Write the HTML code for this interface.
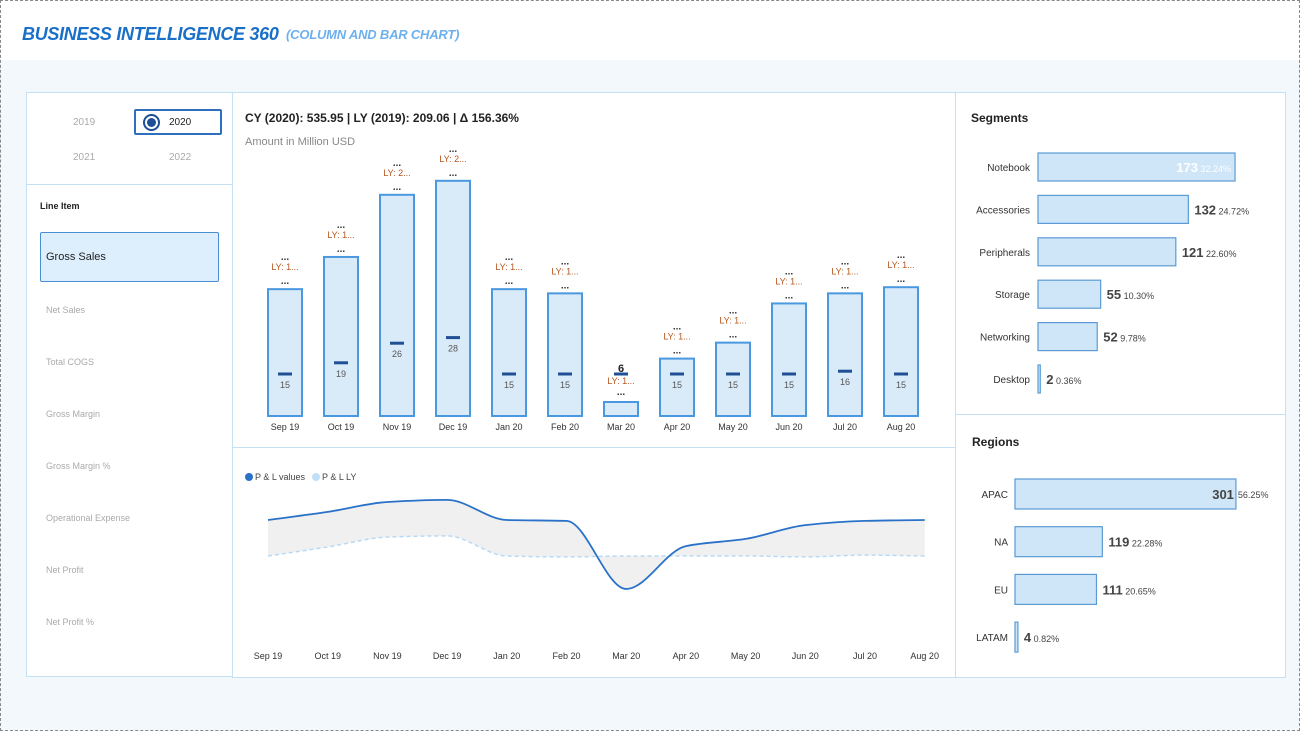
<!DOCTYPE html>
<html><head><meta charset="utf-8">
<style>
*{box-sizing:border-box;margin:0;padding:0}
body{width:1300px;height:731px;overflow:hidden;background:#f3f8fc;font-family:"Liberation Sans",sans-serif;position:relative}
#frame{position:absolute;left:0;top:0;width:1300px;height:731px;border:1px dashed #888;pointer-events:none}
#hdr{position:absolute;left:0;top:0;width:1300px;height:60px;background:#fff}
.title{position:absolute;left:22px;top:24px;font-size:18px;letter-spacing:-0.3px;font-weight:bold;font-style:italic;color:#1a6fc8}
.sub{position:absolute;left:286px;top:27px;font-size:13px;letter-spacing:-0.2px;font-weight:bold;font-style:italic;color:#6db0ef}
.panel{position:absolute;background:#fff;border:1px solid #c5dff3}
.t{position:absolute;white-space:nowrap}
svg text{font-family:"Liberation Sans",sans-serif}
</style></head><body>
<div id="hdr">
<div class="title">BUSINESS INTELLIGENCE 360</div>
<div class="sub">(COLUMN AND BAR CHART)</div>
</div>

<div class="panel" style="left:26px;top:92px;width:207px;height:93px">
<div class="t" style="left:46px;top:24px;font-size:10px;color:#aaa">2019</div>
<div class="t" style="left:107px;top:16px;width:88px;height:26px;border:2px solid #2f6fbf;border-radius:2px">
<div style="position:absolute;left:7px;top:3px;width:17px;height:17px;border-radius:50%;border:2px solid #1f4f94"><div style="position:absolute;left:2px;top:2px;width:9px;height:9px;border-radius:50%;background:#1f4f94"></div></div>
<div class="t" style="left:33px;top:6px;font-size:10px;color:#222">2020</div></div>
<div class="t" style="left:46px;top:59px;font-size:10px;color:#aaa">2021</div>
<div class="t" style="left:142px;top:59px;font-size:10px;color:#aaa">2022</div>
</div>

<div class="panel" style="left:26px;top:184px;width:207px;height:493px">
<div class="t" style="left:13px;top:16px;font-size:9px;font-weight:bold;color:#222">Line Item</div>
<div class="t" style="left:13px;top:47px;width:179px;height:50px;background:#ddeefc;border:1px solid #4a8fd6;border-radius:2px;font-size:11px;color:#222;padding:18px 0 0 5px">Gross Sales</div>
<div class="t" style="left:19px;top:120px;font-size:9px;color:#aaa">Net Sales</div>
<div class="t" style="left:19px;top:172px;font-size:9px;color:#aaa">Total COGS</div>
<div class="t" style="left:19px;top:224px;font-size:9px;color:#aaa">Gross Margin</div>
<div class="t" style="left:19px;top:276px;font-size:9px;color:#aaa">Gross Margin %</div>
<div class="t" style="left:19px;top:328px;font-size:9px;color:#aaa">Operational Expense</div>
<div class="t" style="left:19px;top:380px;font-size:9px;color:#aaa">Net Profit</div>
<div class="t" style="left:19px;top:432px;font-size:9px;color:#aaa">Net Profit %</div>
</div>

<div class="panel" style="left:232px;top:92px;width:724px;height:356px">
<div class="t" style="left:12px;top:18px;font-size:12px;font-weight:bold;color:#222">CY (2020): 535.95 | LY (2019): 209.06 | Δ 156.36%</div>
<div class="t" style="left:12px;top:43px;font-size:11px;color:#888">Amount in Million USD</div>
</div>
<div class="panel" style="left:232px;top:447px;width:724px;height:231px"></div>
<div class="panel" style="left:955px;top:92px;width:331px;height:323px">
<div class="t" style="left:15px;top:18px;font-size:12px;font-weight:bold;color:#222">Segments</div></div>
<div class="panel" style="left:955px;top:414px;width:331px;height:264px">
<div class="t" style="left:16px;top:20px;font-size:12px;font-weight:bold;color:#222">Regions</div></div>

<svg id="svg" width="1300" height="731" style="position:absolute;left:0;top:0"></svg>
<div id="frame"></div>

<script>
// Column chart data
const months=["Sep 19","Oct 19","Nov 19","Dec 19","Jan 20","Feb 20","Mar 20","Apr 20","May 20","Jun 20","Jul 20","Aug 20"];
const cyValues=[45.3,56.8,79,84,45.3,43.8,5,20.5,26.2,40.2,43.8,46];
const lyValues=[15,19,26,28,15,15,15,15,15,15,16,15];
// Line chart data
const plValues=[48,50.7,54,54.7,48,47.7,25,39.3,41.7,46.3,47.7,48];
const plLY=[36,39,42.3,42.7,36,35.7,36,36,36,35.7,36.3,36];
// Segments
const segNames=["Notebook","Accessories","Peripherals","Storage","Networking","Desktop"];
const segValues=[173,132,121,55,52,2];
const segPct=["32.24%","24.72%","22.60%","10.30%","9.78%","0.36%"];
// Regions
const regNames=["APAC","NA","EU","LATAM"];
const regValues=[301,119,111,4];
const regPct=["56.25%","22.28%","20.65%","0.82%"];

const S=document.getElementById('svg');const NS='http://www.w3.org/2000/svg';
function mk(tag,at,txt){const e=document.createElementNS(NS,tag);for(const k in at)e.setAttribute(k,at[k]);if(txt!==undefined)e.textContent=txt;S.appendChild(e);return e;}

// column axes
const colX=i=>285+i*56;
const colY=v=>416-v*2.8;
months.forEach((m,i)=>{
  const cx=colX(i),top=colY(cyValues[i]);
  let e=mk('rect',{x:cx-17,y:top,width:34,height:416-top,fill:'#d9ebf9',stroke:'#4a98e0','stroke-width':2});
  
  
  const ly=colY(lyValues[i]);
  e=mk('rect',{x:cx-7,y:ly-1.5,width:14,height:3,fill:'#1f4f94'});
  
  
  if(top<ly-4){
    e=mk('text',{x:cx,y:ly+14,'font-size':9,fill:'#555','text-anchor':'middle'},lyValues[i]);
    
    
    e=mk('text',{x:cx,y:top-5,'font-size':10,'font-weight':'bold',fill:'#333','text-anchor':'middle'},'...');
    
    
    e=mk('text',{x:cx,y:top-19,'font-size':9,fill:'#b5541b','text-anchor':'middle'},'LY: '+String(lyValues[i])[0]+'...');
    
    
    e=mk('text',{x:cx,y:top-29,'font-size':10,'font-weight':'bold',fill:'#333','text-anchor':'middle'},'...');
    
    
  } else {
    e=mk('text',{x:cx,y:ly-2,'font-size':11,'font-weight':'bold',fill:'#222','text-anchor':'middle'},Math.round(cyValues[i]+1));
    
    
    e=mk('text',{x:cx,y:ly+10,'font-size':9,fill:'#b5541b','text-anchor':'middle'},'LY: '+String(lyValues[i])[0]+'...');
    
    
    e=mk('text',{x:cx,y:top-7,'font-size':10,'font-weight':'bold',fill:'#333','text-anchor':'middle'},'...');
    
    
  }
  e=mk('text',{x:cx,y:430,'font-size':9,fill:'#333','text-anchor':'middle'},m);
  
  
});

// line chart (monotone cubic)
const lx=i=>268+i*59.7;
const ly2=v=>664-v*3;
function pts(vals){return vals.map((v,i)=>[lx(i),ly2(v)]);}
function mono(p){
  const n=p.length,d=[],m=[];
  for(let i=0;i<n-1;i++)d.push((p[i+1][1]-p[i][1])/(p[i+1][0]-p[i][0]));
  m[0]=d[0];m[n-1]=d[n-2];
  for(let i=1;i<n-1;i++){m[i]=(d[i-1]*d[i]<=0)?0:2/(1/d[i-1]+1/d[i]);}
  let s='';
  for(let i=0;i<n-1;i++){const h=(p[i+1][0]-p[i][0])/3;
    s+=' C'+(p[i][0]+h)+','+(p[i][1]+m[i]*h)+' '+(p[i+1][0]-h)+','+(p[i+1][1]-m[i+1]*h)+' '+p[i+1][0]+','+p[i+1][1];}
  return s;
}
function monoRev(p){
  const q=p.map(a=>[-a[0],a[1]]).reverse();
  return mono(q).replace(/(-?[\d.]+),/g,(x,a)=>(-parseFloat(a))+',');
}
function smooth(vals){const p=pts(vals);return 'M'+p[0][0]+','+p[0][1]+mono(p);}
function smoothRev(vals){const p=pts(vals);const n=p.length-1;return ' L'+p[n][0]+','+p[n][1]+monoRev(p)+'Z';}
let a=mk('path',{d:smooth(plValues)+smoothRev(plLY),fill:'#f0f0f0'});


a=mk('path',{d:smooth(plLY),fill:'none',stroke:'#b8d9f5','stroke-width':1.5,'stroke-dasharray':'4,3'});


a=mk('path',{d:smooth(plValues),fill:'none',stroke:'#2a72c8','stroke-width':1.8});


months.forEach((m,i)=>{const e=mk('text',{x:lx(i),y:659,'font-size':9,fill:'#333','text-anchor':'middle'},m);

});
a=mk('circle',{cx:249,cy:477,r:4,fill:'#2a72c8'});


a=mk('text',{x:255,y:480,'font-size':9,fill:'#444'},'P & L values');


a=mk('circle',{cx:316,cy:477,r:4,fill:'#c2dff7'});


a=mk('text',{x:322,y:480,'font-size':9,fill:'#444'},'P & L LY');



// segments
const segW=v=>v*1.139;
const segY=i=>167+i*42.4;
segNames.forEach((n,i)=>{
  const w=segW(segValues[i]),cy=segY(i);
  let e=mk('text',{x:1030,y:cy+4,'font-size':10,fill:'#333','text-anchor':'end'},n);
  
  
  e=mk('rect',{x:1038,y:cy-14,width:Math.max(w,1.5),height:28,fill:'#cfe5f8',stroke:'#5b9bd5','stroke-width':1.2});
  
  
  const inside=i===0;
  const vx=inside?1038+w-4:1038+w+6;
  e=mk('text',{x:vx,y:cy+5,'font-size':13,'font-weight':'bold',fill:inside?'#fff':'#444','text-anchor':inside?'end':'start'},'');
  const t1=document.createElementNS(NS,'tspan');t1.textContent=segValues[i];e.appendChild(t1);
  const t2=document.createElementNS(NS,'tspan');t2.setAttribute('font-size','9');t2.setAttribute('font-weight','normal');t2.textContent=' '+segPct[i];e.appendChild(t2);
  
  
});

// regions
const regW=v=>v*0.734;
const regY=i=>494+i*47.7;
regNames.forEach((n,i)=>{
  const w=regW(regValues[i]),cy=regY(i);
  let e=mk('text',{x:1008,y:cy+4,'font-size':10,fill:'#333','text-anchor':'end'},n);
  
  
  e=mk('rect',{x:1015,y:cy-15,width:Math.max(w,2),height:30,fill:'#cfe5f8',stroke:'#5b9bd5','stroke-width':1.2});
  
  
  const inside=i===0;
  if(inside){
    e=mk('text',{x:1015+w-2,y:cy+5,'font-size':13,'font-weight':'bold',fill:'#444','text-anchor':'end'},regValues[i]);
    
    
    e=mk('text',{x:1015+w+2,y:cy+4,'font-size':9,fill:'#444'},regPct[i]);
    
    
  } else {
    e=mk('text',{x:1015+w+6,y:cy+5,'font-size':13,'font-weight':'bold',fill:'#444'},'');
    const t1=document.createElementNS(NS,'tspan');t1.textContent=regValues[i];e.appendChild(t1);
    const t2=document.createElementNS(NS,'tspan');t2.setAttribute('font-size','9');t2.setAttribute('font-weight','normal');t2.textContent=' '+regPct[i];e.appendChild(t2);
    
    
  }
});
</script>
</body></html>
